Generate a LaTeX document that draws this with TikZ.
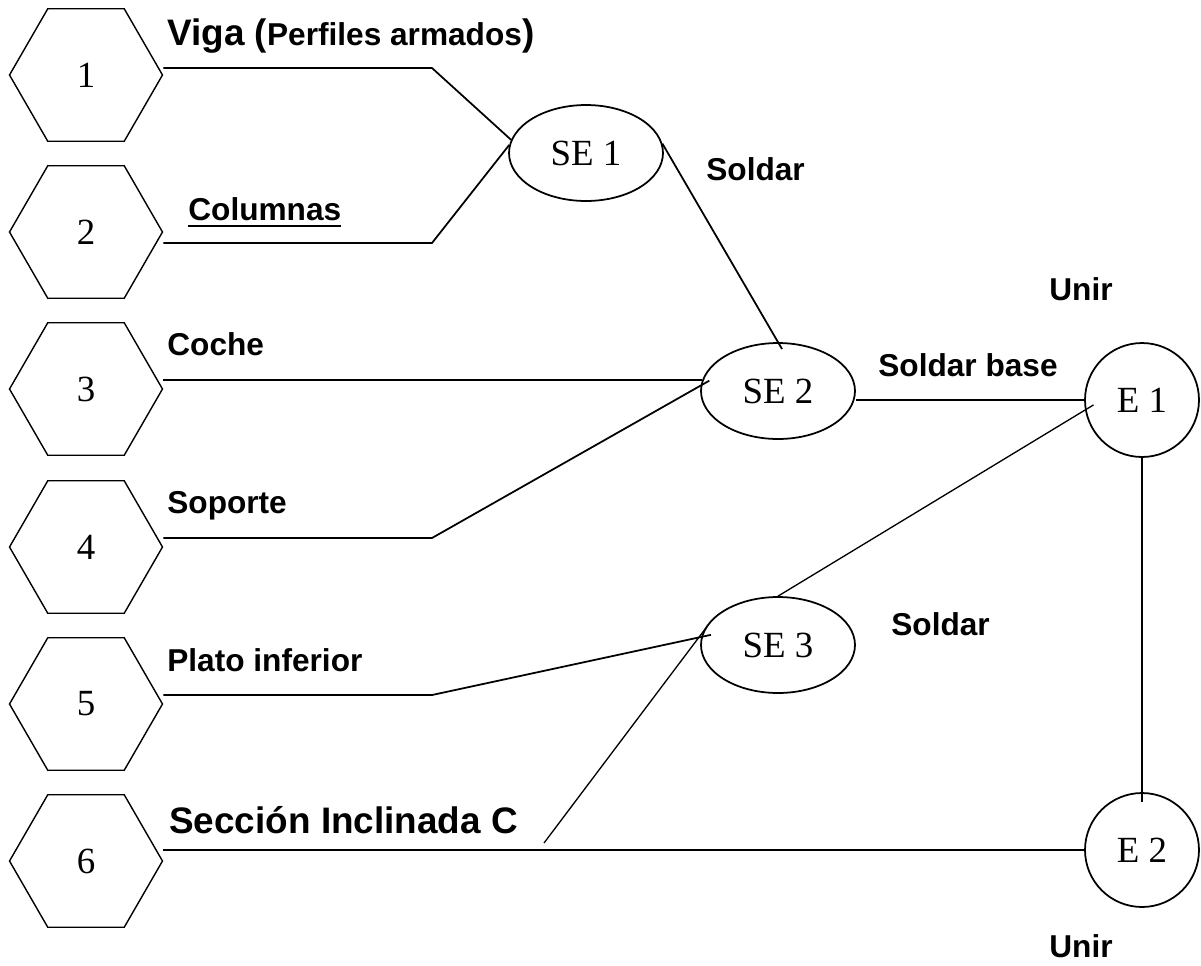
\documentclass[tikz,border=0pt]{standalone}
\usepackage{fontspec}
\setmainfont{Liberation Serif}
\setsansfont{Liberation Sans}
\usetikzlibrary{shapes.geometric}
\newcommand{\ulword}[1]{\setbox0=\hbox{#1}\rlap{\rule[-4pt]{\wd0}{1.1pt}}\box0}

\begin{document}
\begin{tikzpicture}[x=0.02cm, y=-0.02cm]
\tikzset{
  part/.style={regular polygon, regular polygon sides=6, draw, line width=0.8pt,
    minimum size=3.06cm, inner sep=0pt, font=\fontsize{21}{21}\selectfont},
  subasm/.style={ellipse, draw, line width=1pt, minimum width=3.08cm,
    minimum height=1.92cm, inner sep=0pt, font=\fontsize{21}{21}\selectfont},
  asm/.style={circle, draw, line width=1pt, minimum size=2.28cm, inner sep=0pt,
    font=\fontsize{21}{21}\selectfont},
  link/.style={line width=1pt},
  thinlink/.style={line width=0.75pt},
  lab/.style={inner sep=0pt, font=\sffamily\bfseries\fontsize{18}{18}\selectfont},
  biglab/.style={inner sep=0pt, font=\sffamily\bfseries\fontsize{21}{21}\selectfont}
}
\useasboundingbox (0,0) rectangle (1201,965);

% parts
\node[part] (h1) at (86,75) {1};
\node[part] (h2) at (86,232) {2};
\node[part] (h3) at (86,389) {3};
\node[part] (h4) at (86,547) {4};
\node[part] (h5) at (86,704) {5};
\node[part] (h6) at (86,861) {6};

% subassemblies and assemblies
\node[subasm] (se1) at (586,153) {SE 1};
\node[subasm] (se2) at (778,391) {SE 2};
\node[subasm] (se3) at (778,645) {SE 3};
\node[asm] (e1) at (1142,400) {E 1};
\node[asm] (e2) at (1142,850) {E 2};

% bends
\coordinate (k1) at (432,68);
\coordinate (k2) at (432,243);
\coordinate (k4) at (432,538);
\coordinate (k5) at (432,695);
\coordinate (k6) at (544,843);

\draw[link] (h1.east |- k1) -- (k1) -- (se1.170);
\draw[link] (h2.east |- k2) -- (k2) -- (se1.174);
\draw[link, shorten >=-0.16cm] (se1.7) -- (se2.north);
\draw[link] (h3.east |- se2.172) -- (se2.172);
\draw[link, shorten >=-0.2cm] (h4.east |- k4) -- (k4) -- (se2.176);
\draw[link] (e1.west -| se2.east) -- (e1.west);
\draw[thinlink, shorten >=-0.2cm] (se3.north) -- (e1.190);
\draw[link, shorten >=-0.2cm] (e1.south) -- (e2.north);
\draw[link, shorten >=-0.2cm] (h5.east |- k5) -- (k5) -- (se3.174);
\draw[link] (h6.east |- e2.west) -- (e2.west);
\draw[thinlink, shorten >=-0.16cm] (k6) -- (se3.170);

% labels
\node[biglab, anchor=base west] (viga) at (167,45) {Viga ({\fontsize{18}{18}\selectfont Perfiles armados})};
\node[lab, anchor=base west] (columnas) at (188,220) {\ulword{Columnas}};
\node[lab, anchor=base west] (coche) at (167,355) {Coche};
\node[lab, anchor=base west] (soporte) at (167,513) {Soporte};
\node[lab, anchor=base west] (plato) at (167,671) {Plato inferior};
\node[biglab, anchor=base west] (seccion) at (169,833) {Sección Inclinada C};
\node[lab, anchor=base west] (soldar1) at (706,180) {Soldar};
\node[lab, anchor=base west] (soldarb) at (878,376) {Soldar base};
\node[lab, anchor=base west] (soldar2) at (891,635) {Soldar};
\node[lab, anchor=base east] (unir1) at (1113,300) {Unir};
\node[lab, anchor=base east] (unir2) at (1113,957) {Unir};
\end{tikzpicture}
\end{document}
